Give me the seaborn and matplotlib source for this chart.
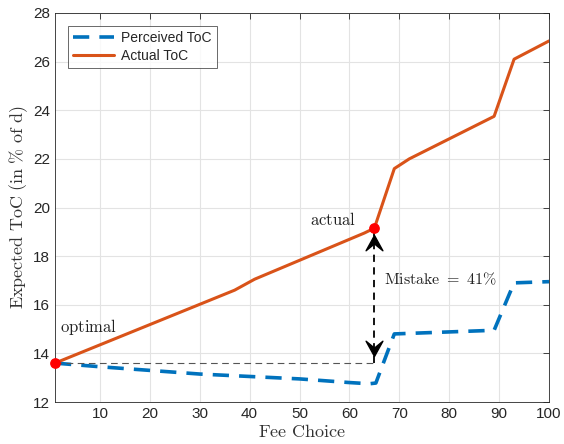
import matplotlib
matplotlib.use("Agg")
import matplotlib.pyplot as plt
from matplotlib.path import Path
import seaborn as sns
import pandas as pd

# Data
actual_x = [1, 37, 41, 63, 65, 69, 72, 89, 93, 100]
actual_y = [13.6, 16.6, 17.05, 18.95, 19.15, 21.6, 22.0, 23.75, 26.1, 26.85]
perc_x = [1, 10, 20, 30, 40, 50, 60, 64, 65.3, 69, 89, 93, 100]
perc_y = [13.6, 13.45, 13.3, 13.15, 13.05, 12.95, 12.8, 12.75, 12.78, 14.8, 14.95, 16.9, 16.95]
opt_x, opt_y = 1, 13.6
act_x, act_y = 65, 19.15
mistake_label = r"$\mathrm{Mistake}\ =\ 41\%$"
xticks = [10, 20, 30, 40, 50, 60, 70, 80, 90, 100]
yticks = [12, 14, 16, 18, 20, 22, 24, 26, 28]

sns.set_style("white")
plt.rcParams["font.family"] = ["Liberation Sans", "DejaVu Sans"]
plt.rcParams["mathtext.fontset"] = "cm"

blue = "#0072BD"
orange = "#D95319"
axcol = "#262626"

fig = plt.figure(figsize=(5.64, 4.44), dpi=100)
ax = fig.add_axes([55/564, 1-402/444, (549-55)/564, (402-13)/444])

dfp = pd.DataFrame({"x": perc_x, "y": perc_y})
dfa = pd.DataFrame({"x": actual_x, "y": actual_y})
sns.lineplot(data=dfp, x="x", y="y", ax=ax, color=blue, lw=2.6, label="Perceived ToC")
ax.lines[-1].set_dashes((4.5, 2.8))
sns.lineplot(data=dfa, x="x", y="y", ax=ax, color=orange, lw=2.2, label="Actual ToC")

# horizontal reference dashed
ax.plot([opt_x, act_x], [opt_y, opt_y], ls=(0, (6, 4)), color="#555555", lw=0.8, zorder=2)
# vertical double arrow (dashed shaft + chevron heads)
ax.plot([act_x, act_x], [opt_y, act_y], ls=(0, (4, 3)), color="k", lw=1.3, zorder=4)
up = Path([(0, 0), (-0.55, -1.0), (0, -0.55), (0.55, -1.0), (0, 0)],
          [Path.MOVETO, Path.LINETO, Path.LINETO, Path.LINETO, Path.CLOSEPOLY])
down = Path([(0, 0), (-0.55, 1.0), (0, 0.55), (0.55, 1.0), (0, 0)],
            [Path.MOVETO, Path.LINETO, Path.LINETO, Path.LINETO, Path.CLOSEPOLY])
ax.plot([act_x], [act_y - 0.3], marker=up, markersize=22, color="k", mec="k", ls="none", zorder=5)
ax.plot([act_x], [opt_y + 0.3], marker=down, markersize=22, color="k", mec="k", ls="none", zorder=5)

ax.scatter([opt_x, act_x], [opt_y, act_y], color="red", s=45, zorder=6, clip_on=False)

ax.text(2, 15.1, r"$\mathrm{optimal}$", fontsize=12, ha="left", va="center", color="#222222")
ax.text(61.3, 19.5, r"$\mathrm{actual}$", fontsize=12, ha="right", va="center", color="#222222")
ax.text(67, 17.05, mistake_label, fontsize=11.5, ha="left", va="center", color="#222222")

ax.set_xlim(1, 100)
ax.set_ylim(12, 28)
ax.set_xticks(xticks)
ax.set_yticks(yticks)
ax.grid(True, color="#e3e3e3", lw=0.8)
ax.set_axisbelow(True)
ax.tick_params(direction="in", length=4, width=0.6, colors=axcol, labelsize=11,
               top=True, right=True, labelcolor=axcol)
for s in ax.spines.values():
    s.set_color(axcol)
    s.set_linewidth(0.6)
ax.set_xlabel(r"$\mathrm{Fee\ Choice}$", fontsize=13, color="#333333", labelpad=2)
ax.set_ylabel(r"$\mathrm{Expected\ ToC\ (in\ \%\ of\ d)}$", fontsize=13, color="#333333", labelpad=2)

leg = ax.legend(loc="upper left", bbox_to_anchor=(0.026, 0.967), borderaxespad=0, fontsize=10,
                frameon=True, fancybox=False, edgecolor="#262626", handlelength=3.0, borderpad=0.35,
                labelspacing=0.3, handletextpad=0.5)
leg.get_frame().set_linewidth(0.6)

fig.savefig("out.png", dpi=100)
